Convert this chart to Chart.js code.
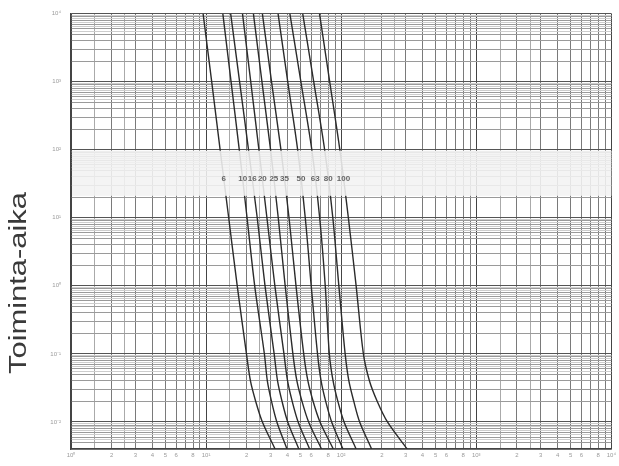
<!DOCTYPE html>
<html>
<head>
<meta charset="utf-8">
<script src="https://cdn.jsdelivr.net/npm/chart.js@4.4.0/dist/chart.umd.min.js"></script>
<style>
    html, body { margin: 0; padding: 0; background: #fff; }
    #wrap { width: 619px; height: 466px; }
</style>
</head>
<body>
<div id="wrap"><canvas id="fuse-chart"></canvas></div>
<script>
// operating time (s) at which each curve was read
const times = [10000, 1000, 100, 10, 1, 0.1, 0.04, 0.02, 0.01, 0.004];

// current (A) of each fuse curve at those times
const fuseRatings = ['6', '10', '16', '20', '25', '35', '50', '63', '80', '100'];
const curve6 = [9.5, 11.0, 12.7, 14.7, 17.0, 19.9, 21.3, 23.3, 26.1, 32.4];
const curve10 = [13.3, 15.3, 17.6, 20.1, 22.9, 27.0, 28.4, 30.5, 33.4, 39.7];
const curve16 = [15.2, 17.7, 20.6, 23.9, 27.3, 31.9, 33.8, 36.5, 40.2, 48.6];
const curve20 = [18.6, 21.4, 24.6, 28.2, 32.3, 37.7, 40.1, 43.4, 48.0, 58.4];
const curve25 = [22.4, 25.9, 30.0, 34.2, 38.5, 43.9, 47.0, 51.3, 57.4, 71.5];
const curve35 = [26.1, 30.5, 35.8, 41.1, 46.3, 52.8, 56.7, 62.0, 69.7, 87.4];
const curve50 = [34.1, 40.2, 47.6, 54.2, 60.0, 66.8, 71.0, 76.8, 85.0, 103];
const curve63 = [41.7, 50.3, 60.6, 69.3, 76.2, 81.7, 87.1, 94.5, 105, 129];
const curve80 = [51.9, 62.6, 75.4, 86.7, 96.1, 107, 114, 124, 137, 168];
const curve100 = [69.1, 82.2, 97.7, 113, 129, 146, 162, 185, 220, 308];
const curves = [curve6, curve10, curve16, curve20, curve25, curve35, curve50, curve63, curve80, curve100];

// axes of the log paper
const xDecades = [1, 10, 100, 1000, 10000];
const xDecadeLabels = ['10⁰', '10¹', '10²', '10³', '10⁴'];
const xMantissas = [1, 1.5, 2, 2.5, 3, 4, 5, 6, 7, 8, 9];
const xLabelMantissas = [2, 3, 4, 5, 6, 8];
const yDecades = [0.001, 0.01, 0.1, 1, 10, 100, 1000, 10000];
const yDecadeLabels = ['10⁻³', '10⁻²', '10⁻¹', '10⁰', '10¹', '10²', '10³', '10⁴'];
const yMantissas = [1, 2, 3, 4, 5, 5.5, 6, 6.5, 7, 7.5, 8, 8.5, 9, 9.5];

const axisTitle = 'Toiminta-aika';
const labelTime = 37;           // row where the ratings are written
const bandTop = 100, bandBottom = 21;

function mantissa(v) {
    const e = Math.floor(Math.log10(v) + 1e-9);
    return Math.round(v / Math.pow(10, e) * 10) / 10;
}

function isDecade(v, decades) {
    return decades.some(d => Math.abs(d - v) / d < 1e-6);
}

function buildTicks(decades, mantissas, min, max) {
    const list = [];
    decades.forEach(d => {
        mantissas.forEach(m => {
            const v = d * m;
            if (v >= min * 0.9999 && v <= max * 1.0001) list.push({ value: v });
        });
    });
    return list;
}

function currentAt(cur, t) {
    for (let i = 0; i < times.length - 1; i++) {
        if (t <= times[i] && t >= times[i + 1]) {
            const f = (Math.log10(times[i]) - Math.log10(t)) / (Math.log10(times[i]) - Math.log10(times[i + 1]));
            return Math.pow(10, Math.log10(cur[i]) + f * (Math.log10(cur[i + 1]) - Math.log10(cur[i])));
        }
    }
    return cur[0];
}

const labelBand = {
    id: 'labelBand',
    afterDatasetsDraw(chart) {
        const { ctx, chartArea, scales } = chart;
        const y1 = scales.y.getPixelForValue(bandTop) + 1;
        const y2 = scales.y.getPixelForValue(bandBottom);
        ctx.save();
        ctx.fillStyle = 'rgba(242,242,242,0.88)';
        ctx.fillRect(chartArea.left + 1, y1, chartArea.right - chartArea.left - 1, y2 - y1);
        ctx.font = 'bold 8px "Liberation Sans Narrow", "Liberation Sans", sans-serif';
        ctx.fillStyle = '#666';
        ctx.textAlign = 'center';
        ctx.textBaseline = 'middle';
        const yy = scales.y.getPixelForValue(labelTime);
        curves.forEach((cur, i) => {
            const xx = scales.x.getPixelForValue(currentAt(cur, labelTime));
            ctx.fillText(fuseRatings[i], xx, yy);
        });
        ctx.restore();
    }
};

const sideTitle = {
    id: 'sideTitle',
    afterDraw(chart) {
        const ctx = chart.ctx;
        ctx.save();
        ctx.translate(26, 283);
        ctx.rotate(-Math.PI / 2);
        ctx.font = '23px "Liberation Sans", Arial, sans-serif';
        ctx.fillStyle = '#3a3a3a';
        ctx.textAlign = 'center';
        ctx.textBaseline = 'alphabetic';
        const w = ctx.measureText(axisTitle).width;
        ctx.scale(182 / w, 1);
        ctx.fillText(axisTitle, 0, 0);
        ctx.restore();
    }
};

const datasets = curves.map((cur, i) => ({
    label: fuseRatings[i],
    data: cur.map((a, k) => ({ x: a, y: times[k] })),
    showLine: true,
    borderColor: '#2b2b2b',
    borderWidth: 1.4,
    pointRadius: 0,
    tension: 0.3,
    fill: false
}));

function xGridColor(ctx) {
    const v = ctx.tick && ctx.tick.value;
    if (!v) return '#888';
    if (isDecade(v, xDecades)) return '#444';
    const m = mantissa(v);
    return Number.isInteger(m) ? '#7a7a7a' : '#aaa';
}

function yGridColor(ctx) {
    const v = ctx.tick && ctx.tick.value;
    if (!v) return '#999';
    if (isDecade(v, yDecades)) return '#555';
    const m = mantissa(v);
    return Number.isInteger(m) ? '#9a9a9a' : '#cdcdcd';
}

new Chart(document.getElementById('fuse-chart'), {
    type: 'scatter',
    data: { datasets },
    options: {
        responsive: true,
        maintainAspectRatio: false,
        animation: false,
        layout: { padding: { top: 12, right: 0, left: 0, bottom: 0 } },
        plugins: { legend: { display: false }, tooltip: { enabled: false } },
        scales: {
            x: {
                type: 'logarithmic',
                min: 1,
                max: 10000,
                afterBuildTicks: s => { s.ticks = buildTicks(xDecades, xMantissas, 1, 10000); },
                afterFit: s => { s.height = 17; },
                grid: { color: xGridColor, lineWidth: 1, drawTicks: false },
                border: { color: '#444', width: 1.5 },
                ticks: {
                    autoSkip: false,
                    maxRotation: 0,
                    padding: 3,
                    color: '#9a9a9a',
                    font: { size: 6, family: 'Liberation Sans' },
                    callback: v => {
                        const i = xDecades.findIndex(d => Math.abs(d - v) / d < 1e-6);
                        if (i >= 0) return xDecadeLabels[i];
                        const m = mantissa(v);
                        return xLabelMantissas.includes(m) ? String(m) : '';
                    }
                }
            },
            y: {
                type: 'logarithmic',
                min: 0.004,
                max: 10000,
                afterBuildTicks: s => { s.ticks = buildTicks(yDecades, yMantissas, 0.004, 10000); },
                afterFit: s => { s.width = 71; },
                grid: { color: yGridColor, lineWidth: 1, drawTicks: false },
                border: { color: '#444', width: 1.5 },
                ticks: {
                    autoSkip: false,
                    padding: 10,
                    color: '#9a9a9a',
                    font: { size: 6, family: 'Liberation Sans' },
                    callback: v => {
                        const i = yDecades.findIndex(d => Math.abs(d - v) / d < 1e-6);
                        return i >= 0 ? yDecadeLabels[i] : '';
                    }
                }
            }
        }
    },
    plugins: [labelBand, sideTitle]
});
</script>
</body>
</html>
